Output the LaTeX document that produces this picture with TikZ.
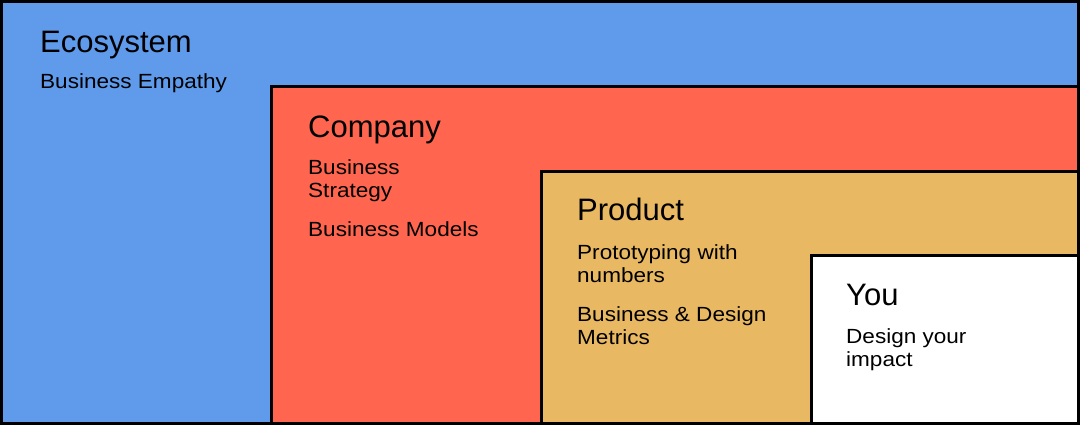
\documentclass[tikz,border=0pt]{standalone}
\usepackage{fontspec}
\setmainfont{Liberation Sans}
\newfontfamily\itemfont[FakeStretch=1.1]{Liberation Sans}
\usetikzlibrary{positioning}

\definecolor{ecoblue}{HTML}{5F9BEA}
\definecolor{compred}{HTML}{FF654F}
\definecolor{prodgold}{HTML}{E8B863}

\tikzset{
    layer/.style={draw=black, line width=3bp},
    title/.style={anchor=base west, inner sep=0pt, font=\fontsize{31bp}{34bp}\selectfont},
    item/.style={anchor=base west, inner sep=0pt, align=left, font=\itemfont\fontsize{20.5bp}{23bp}\selectfont}
}

\begin{document}
\begin{tikzpicture}[x=1bp, y=-1bp]
        \useasboundingbox (0,0) rectangle (1080,425);

        % nested layers
        \fill[ecoblue] (0,0) rectangle (1080,425);
        \draw[layer, fill=compred] (271.5,86.5) rectangle (1078.5,423.5);
        \draw[layer, fill=prodgold] (541.5,171.5) rectangle (1078.5,423.5);
        \draw[layer, fill=white] (811,255.5) rectangle (1078.5,423.5);
        \draw[layer] (1.5,1.5) rectangle (1078.5,423.5);

        % texts (two-line items sit on their last baseline)
        \node[title] (eco) at (40,52) {Ecosystem};
        \node[item] (ecoemp) at (40,88) {Business Empathy};

        \node[title] (comp) at (308,137) {Company};
        \node[item] (compstrat) at (308,197) {Business\\Strategy};
        \node[item] (compmod) at (308,236) {Business Models};

        \node[title] (prod) at (577,220) {Product};
        \node[item] (prodproto) at (577,282) {Prototyping with\\numbers};
        \node[item] (prodmet) at (577,344) {Business \& Design\\Metrics};

        \node[title] (you) at (846,305) {You};
        \node[item] (youimp) at (846,366) {Design your\\impact};
\end{tikzpicture}
\end{document}
